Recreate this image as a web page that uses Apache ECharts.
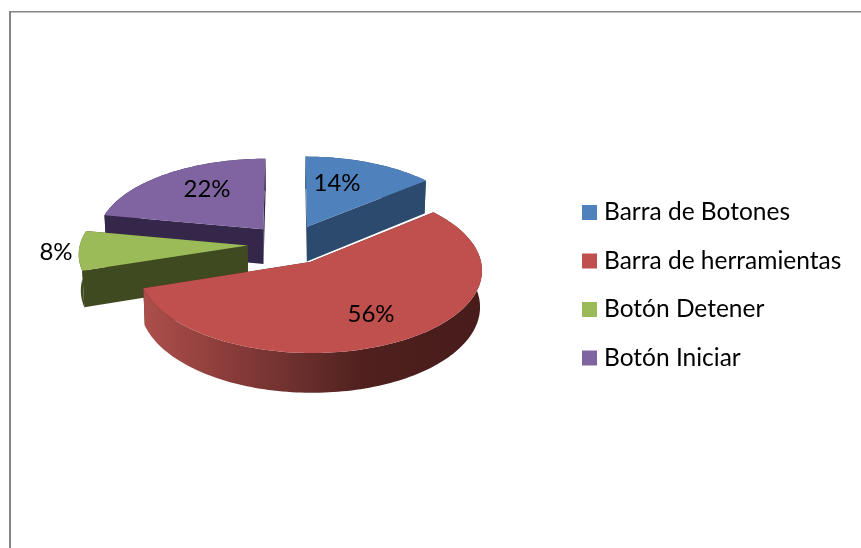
<!DOCTYPE html>
<html>
<head>
<meta charset="utf-8">
<style>html,body{margin:0;padding:0;background:#fff}#c{width:861px;height:548px}</style>
<script src="https://cdn.jsdelivr.net/npm/echarts@6/dist/echarts.min.js"></script>
</head>
<body>
<div id="c"></div>
<script>
const categories = ['Barra de Botones', 'Barra de herramientas', 'Botón Detener', 'Botón Iniciar'];
const values = [14, 56, 8, 22];
const topColors = ['#4F81BD', '#C0504D', '#9BBB59', '#8064A2'];
const sideColors = ['#2C4A6E', '#6B2F2D', '#3F4A20', '#35274A'];
const labelPositions = [[337, 183], [371, 314], [56, 252], [207, 189]];
const drawOrder = [3, 0, 2, 1];

const FONT = 'Lato, Carlito, "Open Sans", sans-serif';
const view = { gx: 289.5, gy: 244.3, A: 167.6, B: 79.4, k: 0.09, depth: 35.4, shrink: 0.99, explode: 0.25 };

function project(u, v, low) {
  const w = 1 - view.k * v;
  let x = view.gx + view.A * u / w;
  let y = view.gy + view.B * v / w;
  if (low) { y += view.depth / w; x = view.gx + (x - view.gx) * view.shrink; }
  return [x, y];
}

const total = values.reduce((a, b) => a + b, 0);
function sliceAngles(i) {
  const before = values.slice(0, i).reduce((a, b) => a + b, 0);
  return [before / total * 2 * Math.PI, (before + values[i]) / total * 2 * Math.PI];
}

function renderSlice(i, api) {
  const [a0, a1] = sliceAngles(i);
  const mid = (a0 + a1) / 2;
  const cu = view.explode * Math.sin(mid), cv = -view.explode * Math.cos(mid);
  const steps = Math.max(6, Math.round((a1 - a0) * 40));
  const arc = [];
  for (let s = 0; s <= steps; s++) {
    const t = a0 + (a1 - a0) * s / steps;
    arc.push([cu + Math.sin(t), cv - Math.cos(t)]);
  }
  const up = p => project(p[0], p[1], false);
  const dn = p => project(p[0], p[1], true);
  const tip = [cu, cv];
  const first = arc[0], last = arc[arc.length - 1];
  const sideFill = i === 1
    ? new echarts.graphic.LinearGradient(0, 0, 1, 0, [
        { offset: 0, color: '#AC4F4C' },
        { offset: 0.25, color: '#8A3C3A' },
        { offset: 0.46, color: '#6B2F2D' },
        { offset: 0.65, color: '#4F201E' },
        { offset: 1, color: '#471C1B' }
      ])
    : sideColors[i];
  const faces = [
    [up(tip), up(first), dn(first), dn(tip)],
    [up(tip), up(last), dn(last), dn(tip)]
  ];
  const children = faces.map(points => ({
    type: 'polygon', shape: { points }, style: { fill: i === 1 ? '#471C1B' : sideColors[i] }
  }));
  children.push({
    type: 'polygon',
    shape: { points: arc.map(up).concat(arc.slice().reverse().map(dn)) },
    style: { fill: sideFill }
  });
  children.push({
    type: 'polygon',
    shape: { points: [up(tip)].concat(arc.map(up)) },
    style: { fill: topColors[i] }
  });
  return { type: 'group', children };
}

function renderLabel(i, api) {
  const pct = Math.round(api.value(0) / total * 100) + '%';
  return {
    type: 'text', z2: 100,
    style: {
      text: pct, x: labelPositions[i][0], y: labelPositions[i][1],
      font: '24px ' + FONT, fill: '#000', align: 'center', verticalAlign: 'middle'
    }
  };
}

const sliceSeries = drawOrder.map(i => ({
  type: 'custom', name: categories[i], coordinateSystem: 'none', silent: true, animation: false, clip: false,
  itemStyle: { color: topColors[i] },
  data: [{ name: categories[i], value: values[i] }],
  renderItem: (params, api) => renderSlice(i, api)
}));
const labelSeries = categories.map((name, i) => ({
  type: 'custom', name: name + ' %', coordinateSystem: 'none', silent: true, animation: false, z: 10,
  data: [{ value: values[i] }],
  renderItem: (params, api) => renderLabel(i, api)
}));

const chart = echarts.init(document.getElementById('c'), null, { renderer: 'canvas' });
chart.setOption({
  backgroundColor: '#fff',
  animation: false,
  graphic: [
    { type: 'rect', shape: { x: 9, y: 11, width: 852, height: 1.4 }, style: { fill: '#858585' } },
    { type: 'rect', shape: { x: 9, y: 11, width: 2, height: 537 }, style: { fill: '#858585' } }
  ],
  legend: {
    data: categories, orient: 'vertical', left: 582, top: 198, padding: 0,
    itemWidth: 15, itemHeight: 15, itemGap: 19.5, selectedMode: false, icon: 'rect',
    textStyle: { fontFamily: FONT, fontSize: 24.5, color: '#000', lineHeight: 29, padding: [0, 0, 0, 2] }
  },
  series: sliceSeries.concat(labelSeries)
});
</script>
</body>
</html>
